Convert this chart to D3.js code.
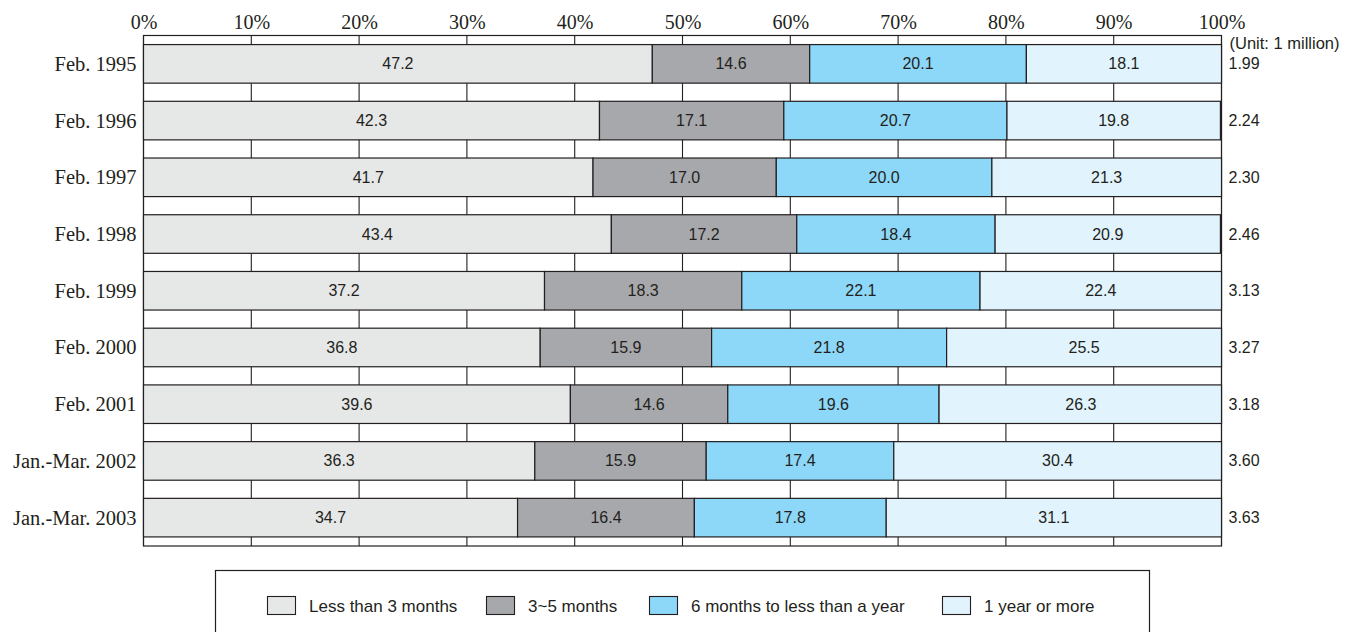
<!DOCTYPE html>
<html>
<head>
<meta charset="utf-8">
<script src="https://cdn.jsdelivr.net/npm/d3@7"></script>
<style>
  html, body { margin: 0; padding: 0; background: #fff; }
  svg { display: block; }
</style>
</head>
<body>
<svg id="chart" width="1359" height="632"></svg>
<script>
// Periods (rows, top to bottom)
const periods = ["Feb. 1995", "Feb. 1996", "Feb. 1997", "Feb. 1998", "Feb. 1999",
                 "Feb. 2000", "Feb. 2001", "Jan.-Mar. 2002", "Jan.-Mar. 2003"];

// Share of unemployed by duration (%)
const lessThan3Months = [47.2, 42.3, 41.7, 43.4, 37.2, 36.8, 39.6, 36.3, 34.7];
const months3to5      = [14.6, 17.1, 17.0, 17.2, 18.3, 15.9, 14.6, 15.9, 16.4];
const months6to12     = [20.1, 20.7, 20.0, 18.4, 22.1, 21.8, 19.6, 17.4, 17.8];
const oneYearOrMore   = [18.1, 19.8, 21.3, 20.9, 22.4, 25.5, 26.3, 30.4, 31.1];

// Total unemployed (million)
const totals = ["1.99", "2.24", "2.30", "2.46", "3.13", "3.27", "3.18", "3.60", "3.63"];

const seriesNames = ["Less than 3 months", "3~5 months", "6 months to less than a year", "1 year or more"];
const seriesValues = [lessThan3Months, months3to5, months6to12, oneYearOrMore];
const seriesColors = ["#e6e7e7", "#a7a8ab", "#8dd8f8", "#e1f3fc"];

const tickValues = [0, 10, 20, 30, 40, 50, 60, 70, 80, 90, 100];

const svg = d3.select("#chart");
const plotLeft = 143.5, plotRight = 1221.5, plotTop = 35.5, plotBottom = 546;
const ink = "#231f20";
const sans = "Liberation Sans, Arial, Helvetica, sans-serif";
const serif = "Liberation Serif, Times New Roman, serif";

const x = d3.scaleLinear().domain([0, 100]).range([plotLeft, plotRight]);
const y = d3.scaleBand().domain(periods).range([plotTop, plotBottom])
  .paddingInner(0.32).paddingOuter(0.16);

// Vertical grid lines behind the bars
svg.append("g").selectAll("line").data(tickValues).join("line")
  .attr("x1", d => x(d)).attr("x2", d => x(d))
  .attr("y1", plotTop).attr("y2", plotBottom)
  .attr("stroke", ink).attr("stroke-width", 1.1);

// Plot frame
svg.append("rect")
  .attr("x", plotLeft).attr("y", plotTop)
  .attr("width", plotRight - plotLeft).attr("height", plotBottom - plotTop)
  .attr("fill", "none").attr("stroke", ink).attr("stroke-width", 1.2);

// Stacked bars
const rows = periods.map((p, i) => {
  let acc = 0;
  return seriesValues.map((vals, s) => {
    const seg = { period: p, s, v: vals[i], x0: acc, x1: acc + vals[i] };
    acc += vals[i];
    return seg;
  });
}).flat();

const segs = svg.append("g").selectAll("g").data(rows).join("g");
segs.append("rect")
  .attr("x", d => x(d.x0))
  .attr("y", d => y(d.period))
  .attr("width", d => Math.min(x(d.x1), plotRight) - x(d.x0))
  .attr("height", y.bandwidth())
  .attr("fill", d => seriesColors[d.s])
  .attr("stroke", ink).attr("stroke-width", 1.2);
segs.append("text")
  .attr("x", d => (x(d.x0) + x(d.x1)) / 2)
  .attr("y", d => y(d.period) + y.bandwidth() / 2 + 5.5)
  .attr("text-anchor", "middle")
  .attr("font-family", sans)
  .attr("font-size", 16)
  .attr("fill", ink)
  .text(d => d.v.toFixed(1));

// Top percent axis
const axisTop = d3.axisTop(x).tickValues(tickValues).tickSize(0).tickPadding(0).tickFormat(d => d + "%");
const gx = svg.append("g").attr("transform", `translate(0,${plotTop - 6.5})`).call(axisTop);
gx.select(".domain").remove();
gx.selectAll("text")
  .attr("font-family", serif).attr("font-weight", "normal")
  .attr("font-size", 20).attr("fill", ink).attr("dy", 0);

// Period labels on the left
const axisLeft = d3.axisLeft(y).tickSize(0).tickPadding(7);
const gy = svg.append("g").attr("transform", `translate(${plotLeft},0)`).call(axisLeft);
gy.select(".domain").remove();
gy.selectAll("text")
  .attr("font-family", serif).attr("font-weight", "normal")
  .attr("font-size", 20.5).attr("fill", ink).attr("dy", "0.34em");

// Totals on the right
svg.append("text")
  .attr("x", plotRight + 8).attr("y", 49)
  .attr("font-family", sans)
  .attr("font-size", 16.5).attr("fill", ink)
  .text("(Unit: 1 million)");
svg.append("g").selectAll("text").data(periods).join("text")
  .attr("x", plotRight + 7)
  .attr("y", d => y(d) + y.bandwidth() / 2 + 5.5)
  .attr("font-family", sans)
  .attr("font-size", 16).attr("fill", ink)
  .text((d, i) => totals[i]);

// Legend
svg.append("rect")
  .attr("x", 215.5).attr("y", 570.5).attr("width", 934).attr("height", 80)
  .attr("fill", "#fff").attr("stroke", ink).attr("stroke-width", 1.2);
const legendX = [267, 486, 649, 942];
const lg = svg.append("g").selectAll("g").data(seriesNames).join("g")
  .attr("transform", (d, i) => `translate(${legendX[i]},596)`);
lg.append("rect")
  .attr("x", 0.5).attr("y", 0.5).attr("width", 28).attr("height", 18)
  .attr("fill", (d, i) => seriesColors[i])
  .attr("stroke", ink).attr("stroke-width", 1.1);
lg.append("text")
  .attr("x", 42).attr("y", 15.5)
  .attr("font-family", sans)
  .attr("font-size", 17).attr("fill", ink)
  .text(d => d);
</script>
</body>
</html>
